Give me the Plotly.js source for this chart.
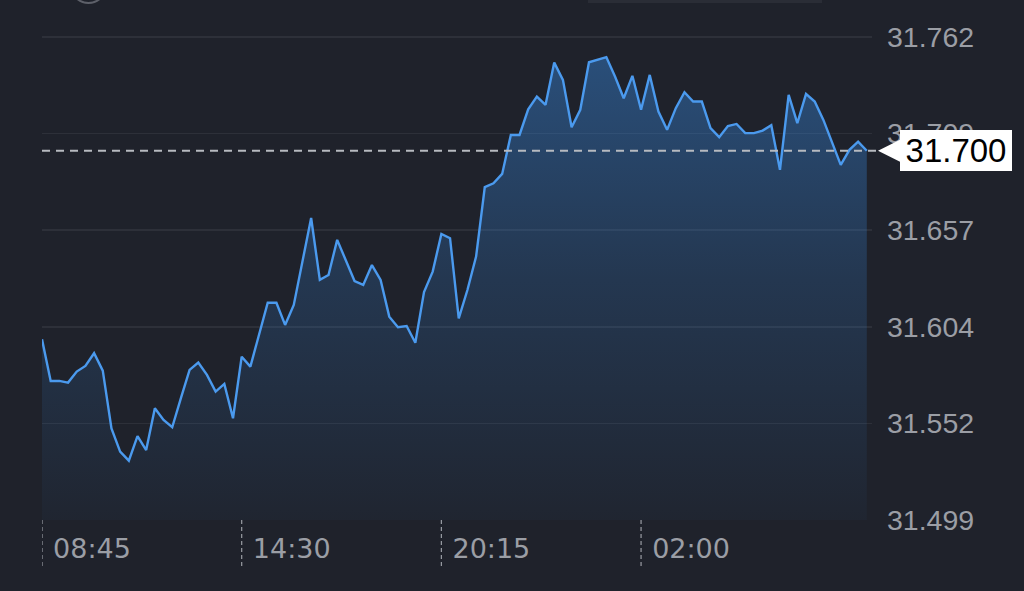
<!DOCTYPE html>
<html>
<head>
<meta charset="utf-8">
<script src="https://cdn.plot.ly/plotly-3.0.1.min.js"></script>
<style>
  html, body { margin: 0; padding: 0; background: #1f222b; }
  #chart { width: 1024px; height: 591px; }
</style>
</head>
<body>
<div id="chart"></div>
<script>
// ---- data ----
const times = [
  "08:45","09:00","09:15","09:30","09:45","10:00","10:15","10:30","10:45","11:00",
  "11:15","11:30","11:45","12:00","12:15","12:30","12:45","13:00","13:15","13:30",
  "13:45","14:00","14:15","14:30","14:45","15:00","15:15","15:30","15:45","16:00",
  "16:15","16:30","16:45","17:00","17:15","17:30","17:45","18:00","18:15","18:30",
  "18:45","19:00","19:15","19:30","19:45","20:00","20:15","20:30","20:45","21:00",
  "21:15","21:30","21:45","22:00","22:15","22:30","22:45","23:00","23:15","23:30",
  "23:45","00:00","00:15","00:30","00:45","01:00","01:15","01:30","01:45","02:00",
  "02:15","02:30","02:45","03:00","03:15","03:30","03:45","04:00","04:15","04:30",
  "04:45","05:00","05:15","05:30","05:45","06:00","06:15","06:30","06:45","07:00",
  "07:15","07:30","07:45","08:00","08:15","08:30"
];
const prices = [
  31.5974,31.5747,31.5747,31.5738,31.5798,31.5829,31.5898,31.5803,31.5489,31.5362,
  31.5313,31.5447,31.5371,31.5598,31.5535,31.5495,31.5653,31.5807,31.5847,31.5780,
  31.5689,31.5731,31.5544,31.5879,31.5825,31.6007,31.6173,31.6173,31.6052,31.6161,
  31.6395,31.6634,31.6297,31.6324,31.6515,31.6406,31.6291,31.6270,31.6378,31.6297,
  31.6097,31.6039,31.6046,31.5955,31.6231,31.6342,31.6547,31.6524,31.6088,31.6242,
  31.6424,31.6802,31.6823,31.6874,31.7086,31.7086,31.7226,31.7295,31.7250,31.7480,
  31.7386,31.7128,31.7223,31.7482,31.7495,31.7510,31.7404,31.7286,31.7408,31.7223,
  31.7413,31.7213,31.7114,31.7232,31.7319,31.7268,31.7268,31.7123,31.7074,31.7135,
  31.7146,31.7096,31.7096,31.7110,31.7139,31.6896,31.7304,31.7150,31.7310,31.7268,
  31.7168,31.7041,31.6923,31.7005,31.7050,31.7000
];
const lastPrice = 31.700;
const lastPriceLabel = "31.700";
const xTickVals = ["08:45","14:30","20:15","02:00"];
const yTickVals = [31.499, 31.5516, 31.6042, 31.6568, 31.7094, 31.762];
const yTickText = ["31.499","31.552","31.604","31.657","31.709","31.762"];

// ---- layout helpers (pixel -> paper) ----
const W = 1024, H = 591;
const M = { l: 42, r: 152, t: 13, b: 71 };
const PW = W - M.l - M.r, PH = H - M.t - M.b;
const px = v => (v - M.l) / PW;
const py = v => (H - M.b - v) / PH;

const shapes = [];
// dotted tick marks under the x axis
xTickVals.forEach(t => shapes.push({
  type: 'line', xref: 'x', yref: 'paper', x0: t, x1: t, y0: 0, y1: py(566),
  line: { color: '#9a9da4', width: 1.2, dash: '4px,3px' }
}));
// dashed last-price line
shapes.push({
  type: 'line', xref: 'paper', yref: 'y', x0: 0, x1: px(878), y0: lastPrice, y1: lastPrice,
  line: { color: '#b7bac0', width: 2, dash: '8px,6px' }, layer: 'above'
});
// pointer triangle of the price tag
const dy = 11 / (PH / (31.775 - 31.499));
shapes.push({
  type: 'path', xref: 'paper', yref: 'y', layer: 'above',
  path: `M ${px(878)},${lastPrice} L ${px(900)},${lastPrice + dy} L ${px(900)},${lastPrice - dy} Z`,
  fillcolor: '#ffffff', line: { width: 0 }
});
// cropped UI fragments at the edges
shapes.push({
  type: 'circle', xref: 'paper', yref: 'paper', x0: px(71), x1: px(106), y0: py(3), y1: py(-32),
  line: { color: '#5d6069', width: 2 }
});
shapes.push({
  type: 'rect', xref: 'paper', yref: 'paper', x0: px(588), x1: px(822), y0: py(3), y1: py(-20),
  fillcolor: '#2a2d36', line: { width: 0 }
});

const trace = {
  type: 'scatter', mode: 'lines', x: times, y: prices,
  line: { color: '#4b9aee', width: 2.4 },
  fill: 'tozeroy',
  fillgradient: {
    type: 'vertical', start: yTickVals[0], stop: yTickVals[yTickVals.length - 1],
    colorscale: [[0, 'rgba(56,140,230,0.03)'], [0.5, 'rgba(56,140,230,0.2)'], [1, 'rgba(56,140,230,0.44)']]
  },
  hoverinfo: 'skip'
};

const layout = {
  width: W, height: H,
  margin: M,
  paper_bgcolor: '#1f222b', plot_bgcolor: '#1f222b',
  showlegend: false,
  font: { family: 'Liberation Sans, Arial, sans-serif', color: '#9b9ea5' },
  xaxis: {
    type: 'category', range: [0, 95.6],
    tickmode: 'array', tickvals: xTickVals, ticktext: xTickVals,
    showgrid: false, zeroline: false, showline: false, ticks: '',
    tickfont: { size: 27, color: '#9b9ea5', family: 'DejaVu Sans, sans-serif' },
    ticklabelshift: 50, ticklabelstandoff: 10
  },
  yaxis: {
    side: 'right', range: [31.499, 31.775],
    tickmode: 'array', tickvals: yTickVals, ticktext: yTickText,
    showgrid: true, gridcolor: '#2d3039', gridwidth: 1.5,
    zeroline: false, showline: false, ticks: '',
    tickfont: { size: 28.5, color: '#9b9ea5' },
    ticklabelstandoff: 14
  },
  shapes: shapes,
  annotations: [{
    xref: 'paper', yref: 'y', x: px(900), y: lastPrice, xanchor: 'left', yanchor: 'middle',
    text: lastPriceLabel, showarrow: false,
    font: { size: 33, color: '#000000', family: 'Liberation Sans, Arial, sans-serif' },
    bgcolor: '#ffffff', borderpad: 4, borderwidth: 0, width: 104, height: 33, align: 'center'
  }]
};

Plotly.newPlot('chart', [trace], layout, { displayModeBar: false, staticPlot: true });
</script>
</body>
</html>
